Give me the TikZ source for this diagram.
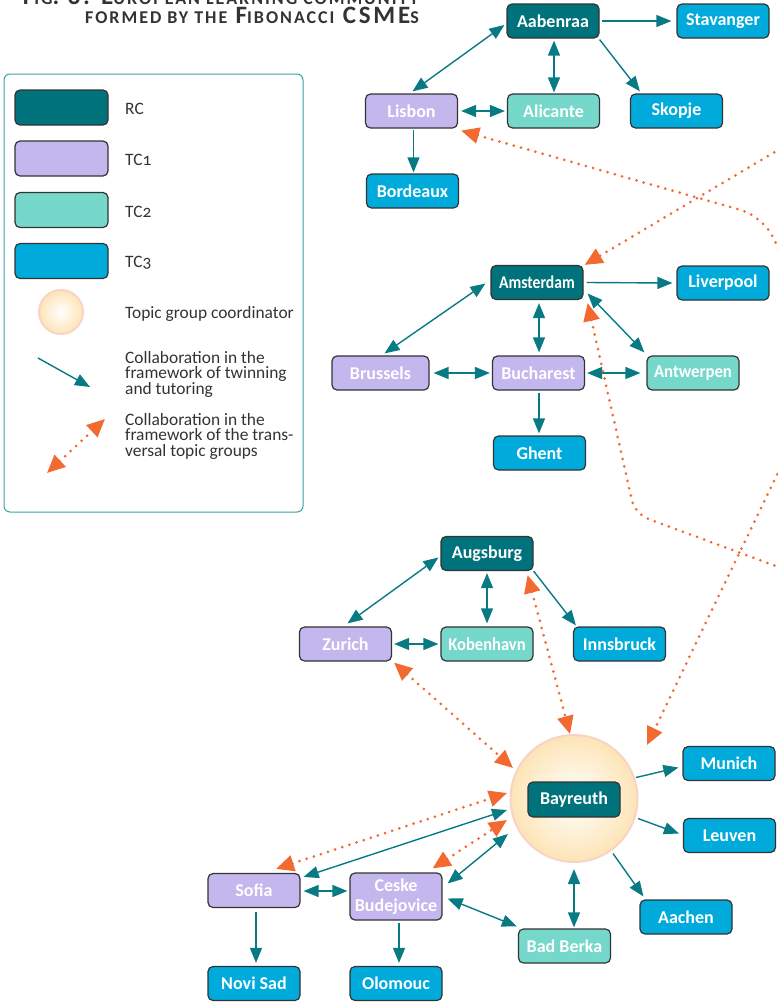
\documentclass[tikz,border=0pt]{standalone}
\usepackage{fontspec}
\setmainfont{Carlito}
\newfontfamily\legfont[Numbers=OldStyle]{Carlito}
\newfontfamily\titlefont[LetterSpace=11]{Carlito}
\usetikzlibrary{arrows.meta,calc}
\definecolor{rc}{HTML}{00727C}
\definecolor{tcone}{HTML}{C4B7EE}
\definecolor{tctwo}{HTML}{76D8CA}
\definecolor{tcthree}{HTML}{00ABDC}
\definecolor{tealarrow}{HTML}{087A84}
\definecolor{orng}{HTML}{F26A30}
\definecolor{bordergray}{HTML}{333333}
\definecolor{legborder}{HTML}{3E9EA6}
\definecolor{titlegray}{HTML}{333333}
\definecolor{circborder}{HTML}{F9D3C4}
\definecolor{circouter}{HTML}{FDE4B6}
\newcommand{\fsc}[1]{{\fontsize{18}{18}\selectfont #1}}
\begin{document}
\begin{tikzpicture}[x=1pt,y=-1pt,
  box/.style={draw=bordergray, line width=1.2pt, rounded corners=5pt, minimum width=92pt, minimum height=34pt, inner sep=0pt, text=white, font=\fontsize{18}{20}\selectfont\bfseries, align=center},
  rcbox/.style={box, fill=rc},
  tconebox/.style={box, fill=tcone},
  tctwobox/.style={box, fill=tctwo},
  tcthreebox/.style={box, fill=tcthree},
  ttip/.tip={Triangle[length=15pt,width=12pt]},
  otip/.tip={Triangle[length=18pt,width=16pt]},
  tline/.style={draw=tealarrow, line width=1.4pt},
  tarr/.style={tline, -ttip},
  tdarr/.style={tline, ttip-ttip},
  oline/.style={draw=orng, line width=3pt, line cap=round, dash pattern=on 0pt off 7.5pt},
  odarr/.style={oline, otip-otip},
  oarrend/.style={oline, -otip},
  oarrstart/.style={oline, otip-},
  legtext/.style={anchor=base west, inner sep=0pt, text=bordergray, font=\legfont\fontsize{17.4}{15.5}\selectfont, align=left},
  titletext/.style={anchor=base east, inner sep=0pt, text=titlegray, font=\titlefont\fontsize{25}{25}\selectfont\bfseries},
  coord/.style={circle, draw=circborder, line width=2pt, inner color=white, outer color=circouter, inner sep=0pt}
]
\useasboundingbox (0,0) rectangle (777,1002);

% title
\node[titletext] (title1) at (419,4) {F\fsc{IG}. 3: E\fsc{UROPEAN LEARNING COMMUNITY}};
\node[titletext] (title2) at (419,23) {\fsc{FORMED BY THE} F\fsc{IBONACCI} CSME\fsc{S}};

% legend
\draw[draw=legborder, line width=1pt, rounded corners=6pt] (4,74) rectangle (303,512);
\node[rcbox, minimum width=93pt, minimum height=35pt] (lrc) at (61.5,107.5) {};
\node[tconebox, minimum width=93pt, minimum height=35pt] (ltc1) at (61.5,158.5) {};
\node[tctwobox, minimum width=93pt, minimum height=35pt] (ltc2) at (61.5,210) {};
\node[tcthreebox, minimum width=93pt, minimum height=35pt] (ltc3) at (61.5,261) {};
\node[legtext] (lrct) at (125,114) {RC};
\node[legtext] (ltc1t) at (125,165) {TC1};
\node[legtext] (ltc2t) at (125,217) {TC2};
\node[legtext] (ltc3t) at (125,267) {TC3};
\node[coord, minimum size=44pt] (lcoord) at (61,312) {};
\node[legtext] (lcoordt) at (125,318) {Topic group coordinator};
\coordinate (lta) at (38,358);
\coordinate (ltb) at (90,387);
\draw[tarr] (lta) -- (ltb);
\node[legtext] (ltwin) at (125,394) {Collaboration in the\\framework of twinning\\and tutoring};
\coordinate (loa) at (47,473);
\coordinate (lob) at (105,419);
\draw[odarr] (loa) -- (lob);
\node[legtext] (ltopic) at (125,456) {Collaboration in the\\framework of the trans-\\versal topic groups};

% top group
\node[rcbox] (aabenraa) at (553,21) {Aabenraa};
\node[tcthreebox] (stavanger) at (723,21) {Stavanger};
\node[tctwobox] (alicante) at (553.5,111) {Alicante};
\node[tcthreebox] (skopje) at (676.5,111) {Skopje};
\node[tconebox] (lisbon) at (411.5,111) {Lisbon};
\node[tcthreebox] (bordeaux) at (412.5,191) {Bordeaux};

% middle group
\node[rcbox] (amsterdam) at (537,282.5) {\scalebox{0.87}[1]{Amsterdam}};
\node[tcthreebox] (liverpool) at (723,283) {Liverpool};
\node[tconebox, minimum width=97pt] (brussels) at (380.5,373) {Brussels};
\node[tconebox] (bucharest) at (538.5,373) {Bucharest};
\node[tctwobox] (antwerpen) at (693,373) {\scalebox{0.93}[1]{Antwerpen}};
\node[tcthreebox] (ghent) at (539.5,453) {Ghent};

% third group
\node[rcbox] (augsburg) at (487,553.5) {Augsburg};
\node[tconebox] (zurich) at (345.5,644) {Zurich};
\node[tctwobox] (kobenhavn) at (487,644) {\scalebox{0.92}[1]{Kobenhavn}};
\node[tcthreebox] (innsbruck) at (619.5,644) {Innsbruck};

% bottom group
\node[coord, minimum size=127pt] (bayc) at (574,798.5) {};
\node[rcbox, minimum height=35pt] (bayreuth) at (574,799.5) {Bayreuth};
\node[tcthreebox] (munich) at (729,763.5) {Munich};
\node[tcthreebox] (leuven) at (729.5,835.5) {Leuven};
\node[tcthreebox] (aachen) at (686,917) {Aachen};
\node[tctwobox] (badberka) at (564.5,946) {Bad Berka};
\node[tconebox] (sofia) at (254,890.5) {Sofia};
\node[tconebox, minimum height=47pt] (ceske) at (396,896.5) {Ceske\\Budejovice};
\node[tcthreebox] (novisad) at (254,983.5) {Novi Sad};
\node[tcthreebox] (olomouc) at (396,983.5) {Olomouc};

% teal connectors top
\draw[tdarr] ($(lisbon.north)+(1,-2)$) -- ($(aabenraa.west)+(-2,4)$);
\draw[tarr] ($(aabenraa.east)+(2,0)$) -- ($(stavanger.west)+(-5,0)$);
\draw[tdarr] ($(aabenraa.south)+(1,2)$) -- ($(alicante.north)+(0.5,-1)$);
\draw[tarr] ($(aabenraa.south east)+(0,1)$) -- ($(skopje.north west)+(10,-2)$);
\draw[tdarr] ($(lisbon.east)+(3,0)$) -- ($(alicante.west)+(-2,0)$);
\draw[tarr] ($(lisbon.south)+(2,1)$) -- ($(bordeaux.north)+(1,-1)$);

% teal connectors middle
\draw[tarr] ($(amsterdam.east)+(3,0)$) -- ($(liverpool.west)+(-4,0)$);
\draw[tdarr] ($(brussels.north)+(4,-2)$) -- ($(amsterdam.west)+(-5,1)$);
\draw[tdarr] ($(amsterdam.south)+(2,3)$) -- ($(bucharest.north)+(0.5,-3)$);
\draw[tdarr] ($(brussels.east)+(4,0)$) -- ($(bucharest.west)+(-2,0)$);
\draw[tarr] ($(bucharest.south)+(0.5,2)$) -- ($(ghent.north)+(-0.5,-2)$);
\draw[tdarr] ($(amsterdam.east)+(4,11)$) -- ($(antwerpen.north west)+(-2,-3)$);
\draw[tdarr] ($(bucharest.east)+(2,0)$) -- ($(antwerpen.west)+(-6,0)$);

% teal connectors third
\draw[tdarr] ($(zurich.north)+(2,-3)$) -- ($(augsburg.west)+(-2,4)$);
\draw[tdarr] ($(augsburg.south)+(0,2)$) -- ($(kobenhavn.north)+(0,-3)$);
\draw[tdarr] ($(zurich.east)+(2,0)$) -- ($(kobenhavn.west)+(-2,0)$);
\draw[tarr] ($(augsburg.south east)+(0,0)$) -- ($(innsbruck.north west)+(3,-1)$);

% teal connectors bottom
\draw[tarr] ($(bayc.center)+(62,-21)$) -- ($(munich.west)+(-4,4)$);
\draw[tarr] ($(bayc.center)+(64,20)$) -- ($(leuven.west)+(-4,-2)$);
\draw[tarr] ($(bayc.center)+(39,55)$) -- ($(aachen.north west)+(4,-3)$);
\draw[tdarr] ($(bayc.south)+(0,6)$) -- ($(badberka.north)+(9.5,-1)$);
\draw[tdarr] ($(sofia.east)+(3,0.5)$) -- ($(ceske.west)+(-2,-5.5)$);
\draw[tdarr] ($(sofia.north east)+(3,4)$) -- ($(bayc.center)+(-67,11.5)$);
\draw[tdarr] ($(ceske.east)+(5,-13)$) -- ($(bayc.center)+(-66,35.5)$);
\draw[tdarr] ($(ceske.east)+(5,2)$) -- ($(badberka.north west)+(-1,-2)$);
\draw[tarr] ($(sofia.south)+(2,4)$) -- ($(novisad.north)+(2,-3)$);
\draw[tarr] ($(ceske.south)+(3,2)$) -- ($(olomouc.north)+(3,-3)$);

% orange topic-group connectors
\draw[odarr] ($(sofia.north)+(22,-4)$) -- ($(bayc.center)+(-67,-5.5)$);
\draw[odarr] ($(ceske.north east)+(-10,-4)$) -- ($(bayc.center)+(-67,21.5)$);
\draw[odarr] ($(zurich.south east)+(2,1)$) -- ($(bayc.center)+(-61,-30.5)$);
\draw[odarr] ($(augsburg.south east)+(-6,4)$) -- ($(bayc.north)+(-4,0)$);
\coordinate (o5bend) at (762,216);
\coordinate (o5end) at (800,290);
\draw[oarrstart, rounded corners=22pt] ($(lisbon.south east)+(3,2)$) -- (o5bend) -- (o5end);
\coordinate (o6start) at (800,137);
\draw[oarrend] (o6start) -- ($(amsterdam.north east)+(1,0)$);
\coordinate (o7bend) at (635,514);
\coordinate (o7end) at (800,575);
\draw[oarrstart, rounded corners=14pt] ($(amsterdam.south east)+(4,3)$) -- (o7bend) -- (o7end);
\coordinate (o8start) at (800,427);
\draw[oarrend] (o8start) -- ($(bayc.center)+(73,-53.5)$);
\end{tikzpicture}
\end{document}
